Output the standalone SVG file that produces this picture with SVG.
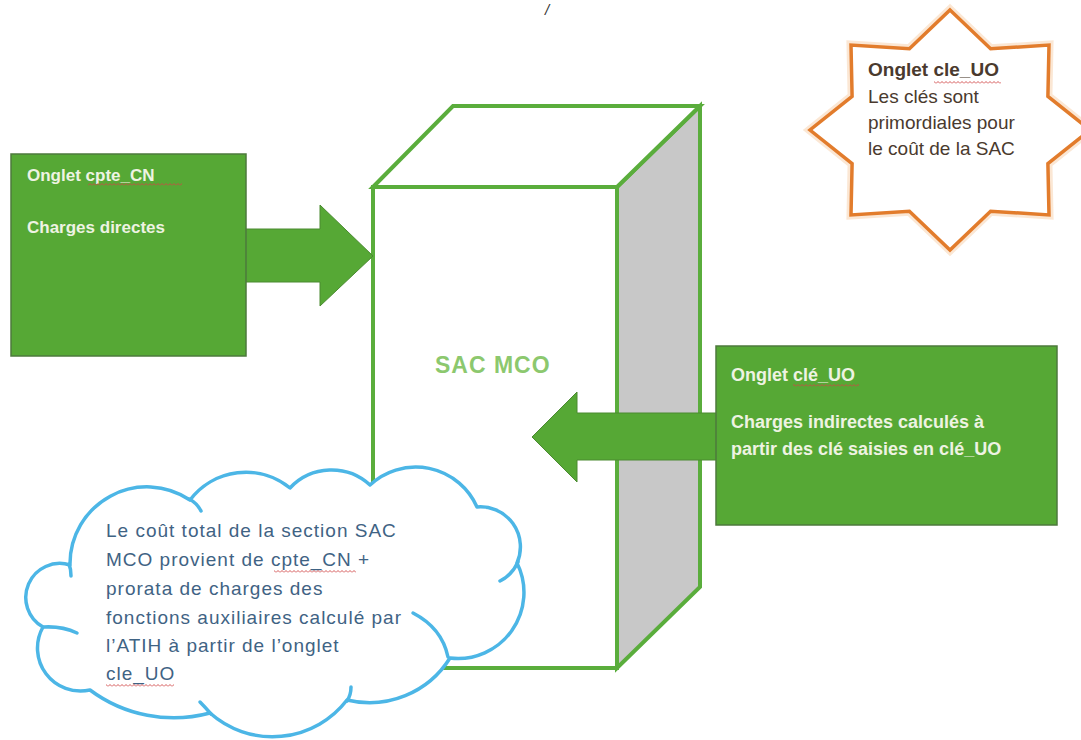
<svg xmlns="http://www.w3.org/2000/svg" width="1081" height="740" viewBox="0 0 1081 740">
  <style>
    .cube { stroke: #5aad3c; stroke-width: 4; stroke-linejoin: miter; }
    .gbox { fill: #56a835; stroke: #4d7a3c; stroke-width: 1.5; }
    .arrow { fill: #56a835; stroke: #4a8a30; stroke-width: 1; }
    .btxt { font-family: "Liberation Sans", Arial, sans-serif; font-weight: bold; fill: #eef3e2; }
    .stxt { font-family: "Liberation Sans", Arial, sans-serif; font-size: 19px; fill: #4a3a2e; }
    .ctxt { font-family: "Liberation Sans", Arial, sans-serif; font-size: 19px; letter-spacing: 1px; fill: #3f6384; }
    .cloud { fill: #ffffff; stroke: #4cb6e6; stroke-width: 3.5; stroke-linejoin: round; }
    .stub { fill: none; stroke: #4cb6e6; stroke-width: 3.5; stroke-linecap: round; }
  </style>
  <defs>
    <pattern id="wavy" width="4" height="3" patternUnits="userSpaceOnUse">
      <path d="M0 2.5 L2 0.5 L4 2.5" fill="none" stroke="#d04545" stroke-width="0.9"/>
    </pattern>
  </defs>

  <text x="545" y="15" font-family="Liberation Sans, Arial, sans-serif" font-style="italic" font-size="15" fill="#333">/</text>

  <g id="cube">
    <polygon class="cube" points="617,187 700,106 700,587 617,668" fill="#c8c8c8"/>
    <polygon class="cube" points="373,187 453,106 700,106 617,187" fill="#ffffff"/>
    <rect class="cube" x="373" y="187" width="244" height="481" fill="#ffffff"/>
    <text x="435" y="373" font-family="Liberation Sans, Arial, sans-serif" font-weight="bold" font-size="23" letter-spacing="1" fill="#8cc86e">SAC MCO</text>
  </g>

  <g id="connectors">
    <polygon class="arrow" points="240,229 320,229 320,205 373,256 320,306 320,282 240,282"/>
    <polygon class="arrow" points="720,413 577,413 577,392 532,437 577,482 577,460 720,460"/>
  </g>

  <g id="cpte_CN">
    <rect class="gbox" x="11" y="154" width="235" height="202"/>
    <text class="btxt" x="27" y="181" font-size="17">Onglet cpte_CN</text>
    <rect x="88" y="183" width="94" height="3" fill="url(#wavy)"/>
    <text class="btxt" x="27" y="233" font-size="17">Charges directes</text>
  </g>

  <g id="cle_UO_box">
    <rect class="gbox" x="716" y="346" width="341" height="179"/>
    <text class="btxt" x="731" y="381" font-size="18">Onglet clé_UO</text>
    <rect x="793" y="384" width="66" height="3" fill="url(#wavy)"/>
    <text class="btxt" x="731" y="428" font-size="18">Charges indirectes calculés à</text>
    <text class="btxt" x="731" y="455" font-size="18">partir des clé saisies en clé_UO</text>
  </g>

  <g id="cloud">
    <path class="cloud" d="M 70 565 A 77 77 0 0 1 190 500 A 70 70 0 0 1 290 488 A 57 57 0 0 1 370 485 A 67 67 0 0 1 477 507 A 40 40 0 0 1 517 563 A 66 66 0 0 1 450 658 A 95 95 0 0 1 347 700 A 94 94 0 0 1 210 713 A 140 140 0 0 1 90 690 A 43 43 0 0 1 43 627 A 34 34 0 0 1 70 565 Z"/>
    <path class="stub" d="M 189 499 Q 197 503 201 511"/>
    <path class="stub" d="M 44 627 Q 62 626 77 633"/>
    <path class="stub" d="M 211 714 Q 205 707 200 702"/>
    <path class="stub" d="M 347 701 Q 351 695 351 687"/>
    <path class="stub" d="M 413 613 Q 442 628 448 657"/>
    <path class="stub" d="M 518 562 Q 512 575 500 581"/>
    <path class="stub" d="M 69 564 Q 71 569 71 576"/>
    <text class="ctxt" x="106" y="537">Le coût total de la section SAC</text>
    <text class="ctxt" x="106" y="566">MCO provient de cpte_CN +</text>
    <rect x="274" y="570" width="82" height="3" fill="url(#wavy)"/>
    <text class="ctxt" x="106" y="595">prorata de charges des</text>
    <text class="ctxt" x="106" y="624">fonctions auxiliaires calculé par</text>
    <text class="ctxt" x="106" y="652">l’ATIH à partir de l’onglet</text>
    <text class="ctxt" x="106" y="680">cle_UO</text>
    <rect x="106" y="684" width="68" height="3" fill="url(#wavy)"/>
  </g>

  <g id="star">
    <polygon points="950,10 990.6,48.7 1049,45.1 1047.9,96.3 1090,130 1047.9,163.7 1049,214.9 990.6,211.3 950,250 909.4,211.3 851,214.9 852.1,163.7 810,130 852.1,96.3 851,45.1 909.4,48.7" fill="none" stroke="#f6c9a0" stroke-width="9" stroke-opacity="0.45" stroke-linejoin="miter"/>
    <polygon points="950,10 990.6,48.7 1049,45.1 1047.9,96.3 1090,130 1047.9,163.7 1049,214.9 990.6,211.3 950,250 909.4,211.3 851,214.9 852.1,163.7 810,130 852.1,96.3 851,45.1 909.4,48.7" fill="#ffffff" stroke="#e27c2c" stroke-width="3.5" stroke-linejoin="miter"/>
    <text class="stxt" x="868" y="76" font-weight="bold" fill="#5b3b1e">Onglet cle_UO</text>
    <rect x="934" y="81" width="67" height="3" fill="url(#wavy)"/>
    <text class="stxt" x="868" y="103">Les clés sont</text>
    <text class="stxt" x="868" y="129">primordiales pour</text>
    <text class="stxt" x="868" y="155">le coût de la SAC</text>
  </g>
</svg>
